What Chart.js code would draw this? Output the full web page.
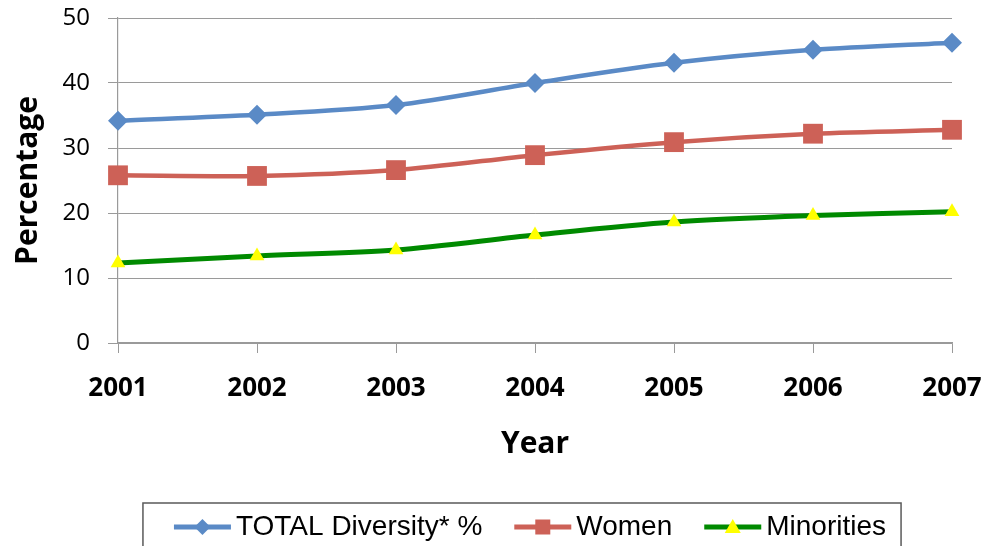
<!DOCTYPE html>
<html>
<head>
<meta charset="utf-8">
<script src="https://cdn.jsdelivr.net/npm/chart.js@4.4.1/dist/chart.umd.min.js"></script>
<style>
html,body{margin:0;padding:0;background:#fff;}
#wrap{width:986px;height:546px;position:relative;}
</style>
</head>
<body>
<div id="wrap"><canvas id="c" width="986" height="546"></canvas></div>
<script>
const years = ["2001","2002","2003","2004","2005","2006","2007"];
const totalDiversity = [34.2, 35.1, 36.6, 40.0, 43.1, 45.1, 46.2];
const women = [25.8, 25.7, 26.6, 28.9, 30.9, 32.2, 32.8];
const minorities = [12.3, 13.4, 14.3, 16.6, 18.6, 19.6, 20.2];
const seriesNames = ["TOTAL Diversity* %", "Women", "Minorities"];
const yTicks = [0, 10, 20, 30, 40, 50];

const BLUE = "#5a8ac6", RED = "#cd6157", GREEN = "#008a00", YELLOW = "#ffff00";

function drawMarker(ctx, style, x, y, s, fill) {
  ctx.fillStyle = fill;
  ctx.beginPath();
  if (style === "rectRot") {
    ctx.moveTo(x, y - s); ctx.lineTo(x + s, y); ctx.lineTo(x, y + s); ctx.lineTo(x - s, y);
  } else if (style === "rect") {
    ctx.rect(x - s, y - s, 2 * s, 2 * s);
  } else {
    ctx.moveTo(x, y - s); ctx.lineTo(x + s, y + s * 0.75); ctx.lineTo(x - s, y + s * 0.75);
  }
  ctx.closePath();
  ctx.fill();
}

const boxLegend = {
  id: "boxLegend",
  afterDraw(chart) {
    const ctx = chart.ctx;
    const ca = chart.chartArea;
    ctx.save();
    ctx.font = "28px 'Liberation Sans', Arial, sans-serif";
    ctx.textBaseline = "middle";
    const symW = 57, gap = 5, itemGap = 32;
    const items = chart.data.datasets.map(ds => ({
      ds, w: symW + gap + ctx.measureText(ds.label).width
    }));
    const total = items.reduce((a, it) => a + it.w, 0) + itemGap * (items.length - 1);
    let x = (ca.left + ca.right) / 2 - 5 - total / 2;
    const y = 527;
    ctx.strokeStyle = "#5a5a5a";
    ctx.lineWidth = 1.5;
    ctx.strokeRect(x - 31, 503, total + 46, 60);
    items.forEach(it => {
      const ds = it.ds;
      ctx.strokeStyle = ds.borderColor;
      ctx.lineWidth = 5;
      ctx.beginPath();
      ctx.moveTo(x, y); ctx.lineTo(x + symW, y);
      ctx.stroke();
      const ms = ds.pointStyle === "rect" ? 7.5 : 8;
      drawMarker(ctx, ds.pointStyle, x + symW / 2, y, ms, ds.pointBackgroundColor);
      ctx.fillStyle = "#000";
      ctx.textAlign = "left";
      ctx.fillText(ds.label, x + symW + gap, y);
      x += it.w + itemGap;
    });
    ctx.restore();
  }
};

new Chart(document.getElementById("c"), {
  type: "line",
  data: {
    labels: years,
    datasets: [
      { label: seriesNames[0], data: totalDiversity, borderColor: BLUE, backgroundColor: BLUE,
        pointBackgroundColor: BLUE, pointBorderColor: BLUE, pointStyle: "rectRot", pointRadius: 10,
        pointBorderWidth: 0, borderWidth: 4.5, tension: 0.3 },
      { label: seriesNames[1], data: women, borderColor: RED, backgroundColor: RED,
        pointBackgroundColor: RED, pointBorderColor: RED, pointStyle: "rect", pointRadius: 14,
        pointBorderWidth: 0, borderWidth: 4.5, tension: 0.3 },
      { label: seriesNames[2], data: minorities, borderColor: GREEN, backgroundColor: GREEN,
        pointBackgroundColor: YELLOW, pointBorderColor: YELLOW, pointStyle: "triangle", pointRadius: 8.5,
        pointBorderWidth: 0, borderWidth: 5, tension: 0.3 }
    ]
  },
  options: {
    responsive: false,
    animation: false,
    devicePixelRatio: 1,
    layout: { padding: { top: 18, right: 34, bottom: 40, left: 0 } },
    plugins: { legend: { display: false }, tooltip: { enabled: false } },
    scales: {
      x: {
        offset: false,
        grid: { display: true, drawOnChartArea: false, tickLength: 10, color: "#9a9a9a", lineWidth: 1 },
        border: { display: true, color: "#9a9a9a", width: 1.2 },
        ticks: { color: "#000", padding: 20, maxRotation: 0,
          font: { family: "'Open Sans', sans-serif", size: 26, weight: "bold" } },
        title: { display: true, text: "Year", color: "#000",
          font: { family: "'Open Sans', sans-serif", size: 30, weight: "bold" },
          padding: { top: 0, bottom: 44 } },
        afterFit(s) { s.height = 163; s.paddingLeft = 0; s.paddingRight = 0; }
      },
      y: {
        min: 0, max: 50,
        afterBuildTicks(s) { s.ticks = yTicks.map(v => ({ value: v })); },
        grid: { color: "#9a9a9a", lineWidth: 1, tickLength: 10 },
        border: { display: true, color: "#9a9a9a", width: 1.2 },
        ticks: { color: "#000", padding: 18,
          font: { family: "'Open Sans', sans-serif", size: 24 } },
        title: { display: true, text: "Percentage", color: "#000",
          font: { family: "'Open Sans', sans-serif", size: 30, weight: "bold" },
          padding: { top: 10, bottom: 0 } },
        afterFit(s) { s.width = 118; s.paddingTop = 0; s.paddingBottom = 0; }
      }
    }
  },
  plugins: [boxLegend]
});
</script>
</body>
</html>
